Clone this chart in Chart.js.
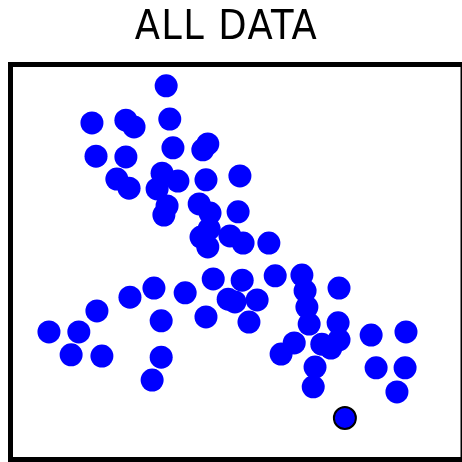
<!DOCTYPE html>
<html>
<head>
<meta charset="utf-8">
<script src="https://cdn.jsdelivr.net/npm/chart.js@4/dist/chart.umd.min.js"></script>
<style>
  html, body { margin: 0; padding: 0; background: #fff; overflow: hidden; }
  #wrap { position: relative; width: 462px; height: 462px; overflow: hidden; }
  #title {
    position: absolute; left: 0; top: 5px; width: 453px;
    text-align: center; font-family: "DejaVu Sans Condensed", "DejaVu Sans", sans-serif;
    font-stretch: condensed; font-size: 41px; line-height: 41px; letter-spacing: 1.4px; color: #000;
  }
  canvas { position: absolute; left: 0; top: 0; }
</style>
</head>
<body>
<div id="wrap">
  <canvas id="scatterChart" width="468" height="462"></canvas>
  <div id="title">ALL DATA</div>
</div>
<script>
// values, both axes on a 0-100 scale (no ticks are shown)
const xValues = [
  34.4, 18.0, 25.5, 27.3, 35.2, 18.9, 25.5, 35.9, 43.6, 42.5,
  23.5, 26.2, 33.5, 37.0, 32.4, 43.2, 50.7, 34.6, 33.9, 41.7,
  44.1, 50.3, 42.1, 43.9, 43.6, 48.5, 51.4, 57.1, 44.8, 51.2,
  58.5, 64.4, 65.1, 65.5, 66.0, 72.6, 38.6, 48.1, 49.6, 54.5,
  43.2, 52.7, 72.4, 72.6, 68.8, 70.8, 62.7, 59.8, 67.3, 66.9,
  79.7, 87.4, 80.8, 87.2, 85.4, 8.5, 15.1, 19.1, 13.4, 20.2,
  26.4, 31.7, 33.3, 33.3, 31.3
];
const yValues = [
  94.6, 85.2, 85.9, 84.2, 86.2, 76.8, 76.6, 78.9, 79.9, 78.4,
  71.0, 68.7, 72.5, 70.5, 68.5, 70.8, 71.8, 64.2, 61.9, 64.7,
  62.4, 62.7, 56.3, 58.4, 53.8, 56.6, 54.8, 54.8, 45.7, 45.4,
  46.5, 46.7, 42.7, 38.6, 34.3, 43.4, 42.2, 40.6, 39.9, 40.4,
  36.1, 34.8, 34.6, 30.3, 29.2, 28.2, 29.5, 26.7, 23.4, 18.4,
  31.5, 32.3, 23.2, 23.2, 17.1, 32.3, 32.3, 37.6, 26.5, 26.2,
  41.1, 43.4, 35.1, 25.9, 20.1
];
// the one marked point
const selectedX = [73.9];
const selectedY = [10.5];

const allPoints = xValues.map((x, i) => ({ x: x, y: yValues[i] }));
const selectedPoints = selectedX.map((x, i) => ({ x: x, y: selectedY[i] }));

const boxBorder = {
  id: 'boxBorder',
  afterDraw(chart) {
    const { ctx, chartArea } = chart;
    ctx.save();
    ctx.strokeStyle = '#000';
    ctx.lineWidth = 5;
    ctx.strokeRect(chartArea.left, chartArea.top,
      chartArea.right - chartArea.left, chartArea.bottom - chartArea.top);
    ctx.restore();
  }
};

const configScatter = {
  type: 'scatter',
  data: {
    datasets: [{
      label: 'All data',
      data: allPoints,
      backgroundColor: '#0000ff',
      borderWidth: 0,
      pointRadius: 11.5,
      pointHoverRadius: 11.5
    }, {
      label: 'Selected',
      data: selectedPoints,
      backgroundColor: '#0000ff',
      borderColor: '#000',
      borderWidth: 2,
      pointRadius: 11,
      pointHoverRadius: 11
    }]
  },
  options: {
    responsive: false,
    animation: false,
    devicePixelRatio: 1,
    layout: {
      autoPadding: false,
      padding: { left: 10.5, top: 64.5, right: 5, bottom: 2.5 }
    },
    scales: {
      x: { type: 'linear', min: 0, max: 100, display: false },
      y: { type: 'linear', min: 0, max: 100, display: false }
    },
    plugins: {
      legend: { display: false },
      tooltip: { enabled: false },
      title: { display: false }
    }
  },
  plugins: [boxBorder]
};

new Chart(document.getElementById('scatterChart'), configScatter);
</script>
</body>
</html>
